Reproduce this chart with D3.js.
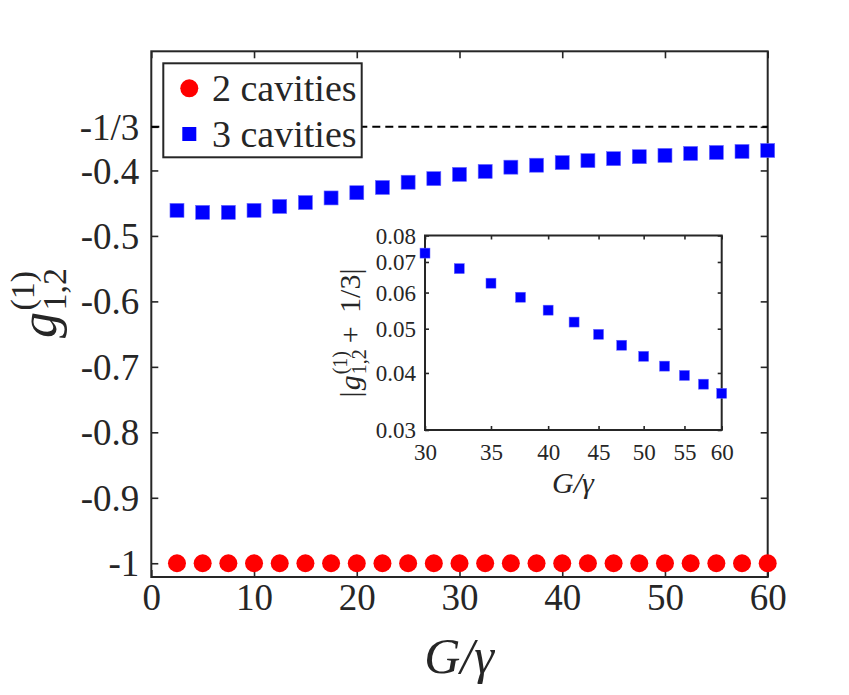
<!DOCTYPE html>
<html>
<head>
<meta charset="utf-8">
<script src="https://cdn.jsdelivr.net/npm/d3@7/dist/d3.min.js"></script>
<style>
  html, body { margin: 0; padding: 0; background: #ffffff; }
  svg { display: block; }
  text { font-family: "Liberation Serif", "Times New Roman", serif; fill: #262626; }
</style>
</head>
<body>
<svg id="chart" width="849" height="695"></svg>
<script>
// ---------------- data ----------------
const mainX = [2.5, 5, 7.5, 10, 12.5, 15, 17.5, 20, 22.5, 25, 27.5, 30,
               32.5, 35, 37.5, 40, 42.5, 45, 47.5, 50, 52.5, 55, 57.5, 60];
const twoCavities = [-1, -1, -1, -1, -1, -1, -1, -1, -1, -1, -1, -1,
                     -1, -1, -1, -1, -1, -1, -1, -1, -1, -1, -1, -1];
const threeCavities = [-0.461, -0.464, -0.464, -0.461, -0.455, -0.449, -0.442, -0.434,
                       -0.426, -0.418, -0.4125, -0.406, -0.4015, -0.395, -0.392, -0.388,
                       -0.385, -0.382, -0.379, -0.377, -0.374, -0.3725, -0.371, -0.3695];
const mainXTicks = [0, 10, 20, 30, 40, 50, 60];
const mainYTicks = [-1, -0.9, -0.8, -0.7, -0.6, -0.5, -0.4, -1/3];
const mainYTickLabels = ["-1", "-0.9", "-0.8", "-0.7", "-0.6", "-0.5", "-0.4", "-1/3"];
const legendLabels = ["2 cavities", "3 cavities"];

const insetX = [30, 32.5, 35, 37.5, 40, 42.5, 45, 47.5, 50, 52.5, 55, 57.5, 60];
const insetValues = [0.0732, 0.0677, 0.0629, 0.0586, 0.0549, 0.0517, 0.0486,
                     0.0460, 0.0435, 0.0414, 0.0395, 0.0378, 0.0361];
const insetXTicks = [30, 35, 40, 45, 50, 55, 60];
const insetYTicks = [0.03, 0.04, 0.05, 0.06, 0.07, 0.08];

// ---------------- layout ----------------
const axisColor = "#262626";
const svg = d3.select("#chart");
svg.append("rect").attr("width", 849).attr("height", 695).attr("fill", "#fff");

const M = { left: 151.3, right: 767.7, top: 51.3, bottom: 577 };
const x = d3.scaleLinear().domain([0, 60]).range([M.left, M.right]);
const y = d3.scaleLinear().domain([-1.021, -0.218]).range([M.bottom, M.top]);

function styleAxis(g, fontSize) {
  g.select(".domain").remove();
  g.selectAll(".tick line").attr("stroke", axisColor).attr("stroke-width", 1.6);
  g.selectAll(".tick text").style("font-family", '"Liberation Serif", serif')
    .style("font-size", fontSize + "px").attr("fill", axisColor);
}

// main axes
const gx = svg.append("g").attr("transform", `translate(0,${M.bottom})`)
  .call(d3.axisBottom(x).tickValues(mainXTicks).tickSizeInner(-7).tickSizeOuter(0).tickPadding(0).tickFormat(d3.format("d")));
styleAxis(gx, 37);
gx.selectAll(".tick text").attr("y", 33).attr("dy", null);

const gxt = svg.append("g").attr("transform", `translate(0,${M.top})`)
  .call(d3.axisTop(x).tickValues(mainXTicks).tickSizeInner(-7).tickSizeOuter(0).tickFormat(""));
styleAxis(gxt, 37);

const gy = svg.append("g").attr("transform", `translate(${M.left},0)`)
  .call(d3.axisLeft(y).tickValues(mainYTicks).tickSizeInner(-7).tickSizeOuter(0).tickPadding(0)
    .tickFormat((d, i) => mainYTickLabels[i]));
styleAxis(gy, 37);
gy.selectAll(".tick text").attr("x", -12).attr("dy", "0.34em");

const gyr = svg.append("g").attr("transform", `translate(${M.right},0)`)
  .call(d3.axisRight(y).tickValues(mainYTicks).tickSizeInner(-7).tickSizeOuter(0).tickFormat(""));
styleAxis(gyr, 37);

svg.append("rect").attr("x", M.left).attr("y", M.top)
  .attr("width", M.right - M.left).attr("height", M.bottom - M.top)
  .attr("fill", "none").attr("stroke", axisColor).attr("stroke-width", 2);

// dashed reference line at -1/3
svg.append("line")
  .attr("x1", x(0)).attr("x2", x(60)).attr("y1", y(-1/3)).attr("y2", y(-1/3))
  .attr("stroke", "#000").attr("stroke-width", 2).attr("stroke-dasharray", "8,5");

// markers
svg.append("g").selectAll("circle").data(mainX).join("circle")
  .attr("cx", d => x(d)).attr("cy", (d, i) => y(twoCavities[i])).attr("r", 9)
  .attr("fill", "#ff0000");
const sq = 14;
svg.append("g").selectAll("rect").data(mainX).join("rect")
  .attr("x", d => x(d) - sq / 2).attr("y", (d, i) => y(threeCavities[i]) - sq / 2)
  .attr("width", sq).attr("height", sq).attr("fill", "#0000ff")
  .attr("stroke", "#6a6aff").attr("stroke-width", 0.6);

// axis labels
svg.append("text").attr("x", 459).attr("y", 673).attr("text-anchor", "middle")
  .style("font-size", "50px").style("font-style", "italic").attr("fill", axisColor)
  .text("G/γ");

// label helper: prefix, g with stacked sup/sub, suffix (rotated -90)
function gLabel(parent, base, script, prefix, suffix) {
  const g = parent.append("g");
  let cx = 0;
  function put(str, size, dy, italic) {
    const t = g.append("text").attr("x", cx).attr("y", dy)
      .style("font-size", size + "px").style("font-style", italic ? "italic" : "normal")
      .attr("fill", axisColor).text(str);
    return t.node().getComputedTextLength();
  }
  if (prefix) cx += put(prefix, base, 0, false) + base * 0.04;
  cx += put("g", base, 0, true) + base * 0.03;
  const w1 = put("(1)", script, -base * 0.42, false);
  const w2 = put("1,2", script, base * 0.2, false);
  cx += Math.max(w1, w2);
  if (suffix) cx += put(suffix, base, 0, false);
  return { g, length: cx };
}
const yl = gLabel(svg, 52, 34, null, null);
yl.g.attr("transform", `translate(56,${303 + yl.length / 2}) rotate(-90)`);

// legend
const L = { x: 163.3, y: 63.3, w: 198.4, h: 94 };
svg.append("rect").attr("x", L.x).attr("y", L.y).attr("width", L.w).attr("height", L.h)
  .attr("fill", "#fff").attr("stroke", axisColor).attr("stroke-width", 2);
svg.append("circle").attr("cx", 189.3).attr("cy", 88.3).attr("r", 9).attr("fill", "#ff0000");
svg.append("rect").attr("x", 189.3 - 7).attr("y", 134 - 7).attr("width", 14).attr("height", 14)
  .attr("fill", "#0000ff");
svg.append("text").attr("x", 212).attr("y", 101).style("font-size", "38px").attr("fill", "#000")
  .text(legendLabels[0]);
svg.append("text").attr("x", 212).attr("y", 147).style("font-size", "38px").attr("fill", "#000")
  .text(legendLabels[1]);

// ---------------- inset ----------------
const I = { left: 425, right: 721.7, top: 235.5, bottom: 430 };
const xi = d3.scaleLog().domain([30, 60]).range([I.left, I.right]);
const yi = d3.scaleLog().domain([0.03, 0.08]).range([I.bottom, I.top]);

svg.append("rect").attr("x", I.left).attr("y", I.top)
  .attr("width", I.right - I.left).attr("height", I.bottom - I.top).attr("fill", "#fff");

const ix = svg.append("g").attr("transform", `translate(0,${I.bottom})`)
  .call(d3.axisBottom(xi).tickValues(insetXTicks).tickSizeInner(-4).tickSizeOuter(0).tickPadding(0).tickFormat(d3.format("d")));
styleAxis(ix, 23);
ix.selectAll(".tick text").attr("y", 30).attr("dy", null);
const ixt = svg.append("g").attr("transform", `translate(0,${I.top})`)
  .call(d3.axisTop(xi).tickValues(insetXTicks).tickSizeInner(-4).tickSizeOuter(0).tickFormat(""));
styleAxis(ixt, 23);
const iy = svg.append("g").attr("transform", `translate(${I.left},0)`)
  .call(d3.axisLeft(yi).tickValues(insetYTicks).tickSizeInner(-4).tickSizeOuter(0).tickPadding(0).tickFormat(d3.format(".2f")));
styleAxis(iy, 23);
iy.selectAll(".tick text").attr("x", -9).attr("dy", "0.34em");
const iyr = svg.append("g").attr("transform", `translate(${I.right},0)`)
  .call(d3.axisRight(yi).tickValues(insetYTicks).tickSizeInner(-4).tickSizeOuter(0).tickFormat(""));
styleAxis(iyr, 23);

svg.append("rect").attr("x", I.left).attr("y", I.top)
  .attr("width", I.right - I.left).attr("height", I.bottom - I.top)
  .attr("fill", "none").attr("stroke", axisColor).attr("stroke-width", 2);

const isq = 10;
svg.append("g").selectAll("rect").data(insetX).join("rect")
  .attr("x", d => xi(d) - isq / 2).attr("y", (d, i) => yi(insetValues[i]) - isq / 2)
  .attr("width", isq).attr("height", isq).attr("fill", "#0000ff")
  .attr("stroke", "#6a6aff").attr("stroke-width", 0.5);

svg.append("text").attr("x", 573).attr("y", 493).attr("text-anchor", "middle")
  .style("font-size", "30px").style("font-style", "italic").attr("fill", axisColor)
  .text("G/γ");

const il = gLabel(svg, 30, 20, "|", " \u2009+\u2009 1/3|");
il.g.attr("transform", `translate(360,${333 + il.length / 2}) rotate(-90)`);
</script>
</body>
</html>
